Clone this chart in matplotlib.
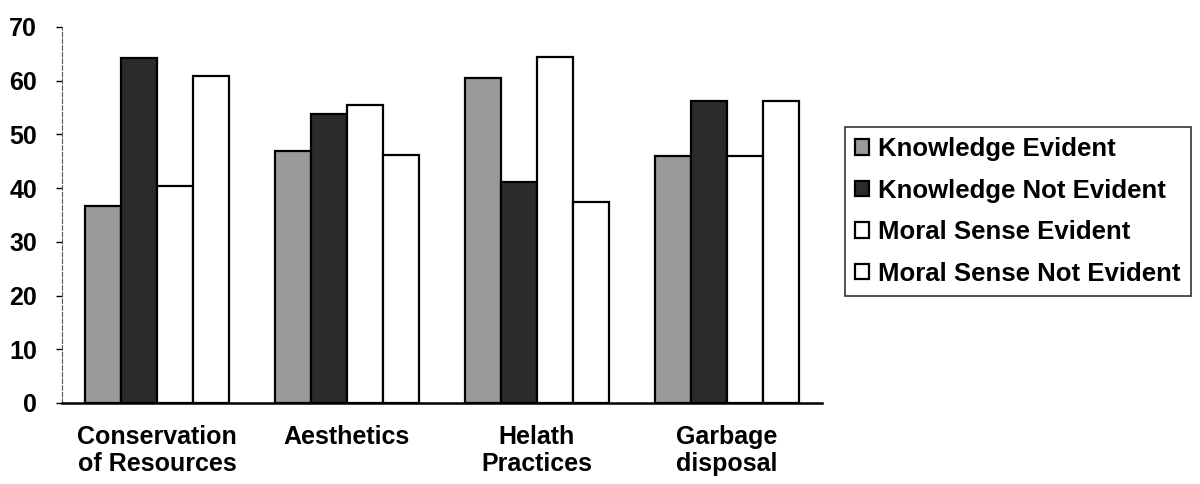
import matplotlib
matplotlib.use("Agg")
import matplotlib.pyplot as plt
import numpy as np

categories = ["Conservation\nof Resources", "Aesthetics", "Helath\nPractices", "Garbage\ndisposal"]
series_names = ["Knowledge Evident", "Knowledge Not Evident", "Moral Sense Evident", "Moral Sense Not Evident"]
knowledge_evident = [36.6, 47.0, 60.5, 46.0]
knowledge_not_evident = [64.3, 53.8, 41.2, 56.2]
moral_evident = [40.4, 55.4, 64.4, 45.9]
moral_not_evident = [60.8, 46.2, 37.4, 56.2]
yticks = [0, 10, 20, 30, 40, 50, 60, 70]

plt.rcParams['font.family'] = ['Liberation Sans', 'DejaVu Sans']
plt.rcParams['font.weight'] = 'bold'

fig = plt.figure(figsize=(12, 4.84), dpi=100)
ax = fig.add_axes([62/1200, 1-403/484, (822-62)/1200, (403-27)/484])

x = np.arange(len(categories))
w = 0.19
data = [knowledge_evident, knowledge_not_evident, moral_evident, moral_not_evident]
fills = ['#9a9a9a', '#2b2b2b', 'white', 'white']
handles = []
for i, (vals, fc) in enumerate(zip(data, fills)):
    b = ax.bar(x + (i - 1.5) * w, vals, w, color=fc, edgecolor='black', linewidth=1.6,
               label=series_names[i], zorder=3)
    handles.append(b)

ax.set_xlim(-0.5, len(categories) - 0.5)
ax.set_ylim(0, 70)
ax.set_yticks(yticks)
ax.set_xticks(x)
ax.set_xticklabels(categories, fontsize=18, fontweight='bold', linespacing=1.15)
ax.tick_params(axis='y', labelsize=18, length=4, direction='out', width=1, pad=14)
ax.tick_params(axis='x', length=0, pad=16)
for t in ax.get_yticklabels():
    t.set_fontweight('bold')
ax.spines['top'].set_visible(False)
ax.spines['right'].set_visible(False)
ax.spines['left'].set_linestyle((0, (4, 2)))
ax.spines['left'].set_color('#555555')
ax.spines['bottom'].set_linewidth(1.8)

leg = fig.legend(handles=handles, loc='upper left', bbox_to_anchor=(845/1200, 1-127/484),
                 fontsize=18.5, frameon=True, fancybox=False, edgecolor='black',
                 handlelength=0.55, handleheight=0.55, handletextpad=0.35, labelspacing=0.68,
                 borderpad=0.4, borderaxespad=0)
leg.get_frame().set_linewidth(1.2)
for t in leg.get_texts():
    t.set_fontweight('bold')

fig.savefig("out.png", dpi=100)
